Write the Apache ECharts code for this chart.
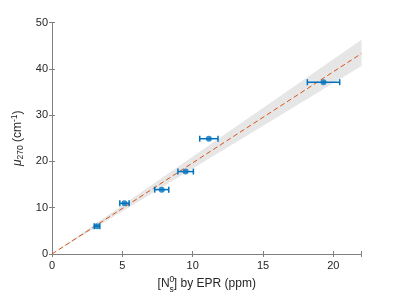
<!DOCTYPE html>
<html><head><meta charset="utf-8">
<script src="https://cdn.jsdelivr.net/npm/echarts@6/dist/echarts.min.js"></script>
<style>html,body{margin:0;padding:0;background:#fff}#c{width:399px;height:299px}</style>
</head><body><div id="c"></div>
<script>
// Data
const ptsX = [3.2, 5.15, 7.8, 9.5, 11.15, 19.3];
const ptsY = [6.0, 10.95, 13.9, 17.8, 24.9, 37.1];
const ptsXErr = [0.2, 0.33, 0.5, 0.55, 0.65, 1.15];
const fitX = [0, 22];
const fitY = [0, 43.3];
const bandUpper = [0, 46.3];
const bandLower = [0, 40.6];
const xTicks = [0, 5, 10, 15, 20];
const yTicks = [0, 10, 20, 30, 40, 50];

const FONT = 'Liberation Sans, Arial, sans-serif';
const txt = '#262626';
const axc = '#808080';
const chart = echarts.init(document.getElementById('c'));

const grid = {left: 52, right: 37.5, top: 22.5, bottom: 45};

function axisCommon() {
  return {
    axisLine: {show: true, lineStyle: {color: axc, width: 1}},
    axisTick: {show: true, inside: true, length: 3, lineStyle: {color: axc}},
    splitLine: {show: false},
  };
}

// x-axis label built from parts with measured widths
const cv = document.createElement('canvas').getContext('2d');
function w(s, size) { cv.font = size + 'px ' + FONT; return cv.measureText(s).width; }
const fs = 12, fsS = 8.5;
const p1 = '[N', p3 = '] by EPR (ppm)';
const totalW = w(p1, fs) + w('s', fsS) + w(p3, fs);
const cx = grid.left + (399 - grid.left - grid.right) / 2;
const x0 = cx - totalW / 2;
const baseY = 290;
const xs1 = x0 + w(p1, fs);
const xs3 = xs1 + w('s', fsS);

chart.setOption({
  animation: false,
  grid: grid,
  xAxis: [Object.assign({
    type: 'value', min: 0, max: 22, interval: 5,
    axisLabel: {color: txt, fontSize: 11, fontFamily: FONT, margin: 6,
      formatter: v => xTicks.includes(v) ? String(v) : ''},
  }, axisCommon()),
  Object.assign({
    type: 'value', min: 0, max: 22, interval: 5, position: 'top',
    axisLabel: {show: false},
  }, axisCommon())],
  yAxis: [Object.assign({
    type: 'value', min: 0, max: 50, interval: 10,
    axisLabel: {color: txt, fontSize: 11, fontFamily: FONT, margin: 4,
      formatter: v => yTicks.includes(v) ? String(v) : ''},
    name: '{i|μ}{sub|270} (cm{sup|-1})',
    nameLocation: 'middle', nameRotate: 90, nameGap: 25,
    nameTextStyle: {color: txt, fontSize: 12, fontFamily: FONT,
      rich: {
        i: {fontStyle: 'italic', fontSize: 12, fontFamily: FONT, color: txt},
        sub: {fontSize: 8.5, fontFamily: FONT, color: txt, verticalAlign: 'bottom', padding: [6, 0, 0, 0]},
        sup: {fontSize: 8.5, fontFamily: FONT, color: txt, verticalAlign: 'top', padding: [0, 0, 6, 0]}
      }}
  }, axisCommon()),
  Object.assign({
    type: 'value', min: 0, max: 50, interval: 10, position: 'right',
    axisLabel: {show: false},
  }, axisCommon())],
  graphic: [
    {type: 'text', left: x0, top: baseY - 12, silent: true,
      style: {text: p1, fontSize: fs, fontFamily: FONT, fill: txt}},
    {type: 'text', left: xs1, top: baseY - 15, silent: true,
      style: {text: '0', fontSize: fsS, fontFamily: FONT, fill: txt}},
    {type: 'text', left: xs1, top: baseY - 5, silent: true,
      style: {text: 's', fontSize: fsS, fontFamily: FONT, fill: txt}},
    {type: 'text', left: xs3, top: baseY - 12, silent: true,
      style: {text: p3, fontSize: fs, fontFamily: FONT, fill: txt}},
  ],
  series: [
    {
      type: 'custom', silent: true, z: 1,
      data: [0],
      renderItem: function (params, api) {
        const pts = [];
        for (let i = 0; i < fitX.length; i++) pts.push(api.coord([fitX[i], bandUpper[i]]));
        for (let i = fitX.length - 1; i >= 0; i--) pts.push(api.coord([fitX[i], bandLower[i]]));
        return {type: 'polygon', shape: {points: pts}, style: {fill: '#e6e6e6'}};
      }
    },
    {
      type: 'line', z: 2, data: fitX.map((x, i) => [x, fitY[i]]),
      symbol: 'none', silent: true,
      lineStyle: {color: '#D95319', width: 1, type: [5, 3]}
    },
    {
      type: 'custom', z: 3,
      data: ptsX.map((x, i) => [x, ptsY[i], ptsXErr[i]]),
      renderItem: function (params, api) {
        const x = api.value(0), y = api.value(1), e = api.value(2);
        const a = api.coord([x - e, y]), b = api.coord([x + e, y]);
        const c = 3;
        const st = {stroke: '#0072BD', lineWidth: 1.5};
        return {type: 'group', children: [
          {type: 'line', shape: {x1: a[0], y1: a[1], x2: b[0], y2: b[1]}, style: st},
          {type: 'line', shape: {x1: a[0], y1: a[1] - c, x2: a[0], y2: a[1] + c}, style: st},
          {type: 'line', shape: {x1: b[0], y1: b[1] - c, x2: b[0], y2: b[1] + c}, style: st},
        ]};
      }
    },
    {
      type: 'scatter', z: 4, data: ptsX.map((x, i) => [x, ptsY[i]]),
      symbol: 'circle', symbolSize: 6,
      itemStyle: {color: '#0072BD'}
    }
  ]
});
</script></body></html>
